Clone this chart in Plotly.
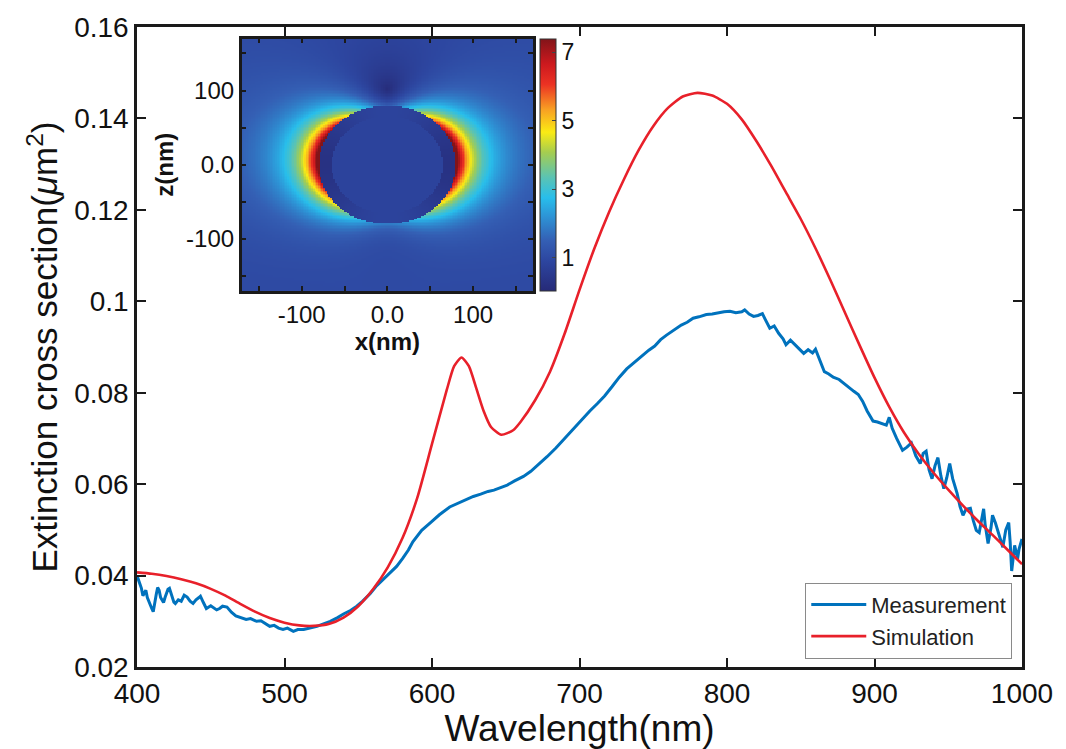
import numpy as np
import plotly.graph_objects as go

# Measured extinction spectrum (nm, um^2)
wl_meas = [400, 401, 402, 403, 404, 405, 406, 407, 408, 409, 410, 411, 412, 413, 414, 415, 416, 417, 418, 419,
           420, 421, 422, 423, 424, 425, 426, 428, 430, 432, 434, 436, 438, 440, 442, 443, 445, 447, 450, 452,
           454, 456, 458, 461, 464, 467, 470, 474, 477, 481, 484, 487, 490, 493, 496, 499, 502, 506, 509, 513,
           517, 522, 526, 531, 536, 540, 545, 549, 553, 558, 562, 566, 571, 576, 580, 584, 587, 593, 599, 605,
           612, 618, 623, 628, 633, 638, 642, 646, 651, 656, 662, 667, 672, 678, 684, 690, 696, 702, 707, 712,
           717, 722, 727, 732, 737, 742, 747, 751, 755, 759, 764, 769, 773, 777, 781, 786, 790, 794, 798, 802,
           806, 810, 812, 815, 818, 821, 824, 826, 829, 832, 835, 838, 840, 843, 846, 849, 852, 855, 858, 860,
           863, 866, 869, 872, 876, 879, 882, 886, 889, 892, 895, 899, 902, 905, 908, 910, 912, 915, 919, 922,
           925, 928, 931, 933, 935, 937, 939, 941, 943, 945, 947, 949, 951, 953, 956, 958, 960, 962, 965, 967,
           969, 971, 973, 974, 975, 977, 979, 980, 982, 985, 987, 989, 991, 992, 993, 995, 997, 998, 1000]
ext_meas = [0.0400, 0.0391, 0.0380, 0.0372, 0.0356, 0.0363, 0.0368, 0.0352, 0.0343, 0.0338, 0.0328, 0.0321,
            0.0336, 0.0358, 0.0374, 0.0368, 0.0352, 0.0345, 0.0341, 0.0352, 0.0363, 0.0370, 0.0372, 0.0360,
            0.0350, 0.0342, 0.0339, 0.0347, 0.0344, 0.0357, 0.0353, 0.0344, 0.0339, 0.0347, 0.0352, 0.0355,
            0.0341, 0.0328, 0.0334, 0.0329, 0.0325, 0.0328, 0.0333, 0.0331, 0.0320, 0.0312, 0.0309, 0.0304,
            0.0306, 0.0300, 0.0301, 0.0294, 0.0289, 0.0291, 0.0285, 0.0282, 0.0285, 0.0278, 0.0282, 0.0282,
            0.0285, 0.0289, 0.0294, 0.0300, 0.0308, 0.0316, 0.0324, 0.0333, 0.0344, 0.0360, 0.0376, 0.0389,
            0.0404, 0.0420, 0.0437, 0.0456, 0.0474, 0.0499, 0.0516, 0.0533, 0.0550, 0.0559, 0.0566, 0.0573,
            0.0578, 0.0584, 0.0587, 0.0592, 0.0598, 0.0607, 0.0617, 0.0628, 0.0642, 0.0660, 0.0679, 0.0700,
            0.0722, 0.0744, 0.0760, 0.0776, 0.0793, 0.0813, 0.0834, 0.0852, 0.0866, 0.0880, 0.0893, 0.0902,
            0.0916, 0.0926, 0.0937, 0.0948, 0.0954, 0.0963, 0.0966, 0.0971, 0.0972, 0.0975, 0.0977, 0.0978,
            0.0975, 0.0977, 0.0981, 0.0972, 0.0967, 0.0969, 0.0973, 0.0960, 0.0941, 0.0946, 0.0930, 0.0918,
            0.0905, 0.0915, 0.0905, 0.0895, 0.0886, 0.0894, 0.0887, 0.0895, 0.0869, 0.0846, 0.0841, 0.0834,
            0.0829, 0.0821, 0.0812, 0.0803, 0.0796, 0.0781, 0.0760, 0.0738, 0.0736, 0.0732, 0.0729, 0.0746,
            0.0722, 0.0700, 0.0674, 0.0681, 0.0690, 0.0662, 0.0645, 0.0667, 0.0672, 0.0631, 0.0612, 0.0640,
            0.0658, 0.0618, 0.0590, 0.0614, 0.0645, 0.0612, 0.0580, 0.0551, 0.0532, 0.0545, 0.0547, 0.0520,
            0.0499, 0.0494, 0.0530, 0.0546, 0.0512, 0.0470, 0.0505, 0.0532, 0.0515, 0.0480, 0.0462, 0.0500,
            0.0516, 0.0472, 0.0410, 0.0466, 0.0437, 0.0458, 0.0480]

# Simulated extinction spectrum
wl_sim = [400, 410, 420, 430, 440, 450, 460, 470, 480, 490, 500, 510, 520, 530, 540, 550, 560, 570, 580, 590,
          600, 610, 615, 620, 625, 630, 635, 640, 647, 655, 660, 670, 680, 690, 700, 710, 720, 730, 740, 750,
          760, 770, 780, 790, 800, 810, 820, 830, 840, 850, 860, 870, 880, 890, 900, 910, 920, 930, 940, 950,
          960, 970, 980, 990, 1000]
ext_sim = [0.0407, 0.0404, 0.0399, 0.0392, 0.0383, 0.0371, 0.0356, 0.0338, 0.0321, 0.0307, 0.0297, 0.0291,
           0.0290, 0.0294, 0.0308, 0.0333, 0.0370, 0.0418, 0.0482, 0.0570, 0.0688, 0.0806, 0.0858, 0.0877,
           0.0858, 0.0810, 0.0760, 0.0725, 0.0708, 0.0718, 0.0736, 0.0784, 0.0846, 0.0930, 0.1025, 0.1115,
           0.1195, 0.1266, 0.1330, 0.1383, 0.1423, 0.1448, 0.1456, 0.1450, 0.1432, 0.1398, 0.1350, 0.1296,
           0.1238, 0.1180, 0.1116, 0.1047, 0.0975, 0.0903, 0.0833, 0.0769, 0.0713, 0.0666, 0.0625, 0.0588,
           0.0553, 0.0520, 0.0489, 0.0457, 0.0425]

y_ticks = [0.02, 0.04, 0.06, 0.08, 0.1, 0.12, 0.14, 0.16]
y_ticktext = ["0.02", "0.04", "0.06", "0.08", "0.1", "0.12", "0.14", "0.16"]
x_ticks = [400, 500, 600, 700, 800, 900, 1000]
inset_ticks = [-100, 0, 100]
inset_ticktext = ["-100", "0.0", "100"]
inset_minor = [-150, -50, 50, 150]
cbar_ticks = [1, 3, 5, 7]

# Near-field |E|/|E0| map around a core-shell particle: x-polarised dipole response
# with a weak phase retardation along z, plus a localised hot-spot term at the sides
R_OUT, R_IN = 80.0, 65.0
grid = np.linspace(-170, 170, 171)
X, Z = np.meshgrid(grid, grid)
r = np.hypot(X, Z) + 1e-9
c, s_ = X / r, Z / r
g = 2.1 * np.exp(0.6j) * (1.0 + 0.1 * c ** 2)
k = 0.006
d = (R_OUT / r) ** 3
Ex = np.exp(1j * k * Z) + g * d * (3 * c ** 2 - 1)
Ez = g * d * 3 * c * s_
phi = np.arctan2(Z, np.abs(X))
hot = 3.0 * (R_OUT / r) ** 4 * np.exp(-((phi - 0.3) / 0.85) ** 2)
field = np.sqrt(np.abs(Ex) ** 2 + np.abs(Ez) ** 2) + hot
field = np.where(r < R_OUT, 0.85 - 0.55 * c ** 2, field)
field = np.where(r < R_IN, 0.85, field)
field = np.clip(field, 0.05, 7.4)

jet_soft = [
    [0.00, "rgb(38,42,120)"],
    [0.12, "rgb(45,70,160)"],
    [0.20, "rgb(52,95,180)"],
    [0.30, "rgb(45,150,215)"],
    [0.37, "rgb(40,190,235)"],
    [0.45, "rgb(90,195,180)"],
    [0.55, "rgb(165,205,80)"],
    [0.63, "rgb(250,235,20)"],
    [0.72, "rgb(248,160,35)"],
    [0.82, "rgb(235,50,35)"],
    [0.90, "rgb(205,25,30)"],
    [1.00, "rgb(130,20,25)"],
]

FONT = "Liberation Sans, Arial, Helvetica, sans-serif"
BLUE = "#0072BD"
RED = "#E8202A"

fig = go.Figure()

fig.add_trace(go.Scatter(x=wl_meas, y=ext_meas, mode="lines", name="Measurement",
                         line=dict(color=BLUE, width=3)))
fig.add_trace(go.Scatter(x=wl_sim, y=ext_sim, mode="lines", name="Simulation",
                         line=dict(color=RED, width=2.6, shape="spline", smoothing=0.6)))

fig.add_trace(go.Heatmap(
    x=grid, y=grid, z=field, xaxis="x2", yaxis="y2",
    colorscale=jet_soft, zmin=0.05, zmax=7.4, showscale=True, showlegend=False,
    colorbar=dict(x=0.4554, xanchor="left", y=0.982, yanchor="top", len=0.393, lenmode="fraction",
                  thickness=16, outlinewidth=1, outlinecolor="#333",
                  tickvals=cbar_ticks, ticks="inside", ticklen=4, tickcolor="#444",
                  tickfont=dict(size=23, family=FONT, color="#111"), xpad=0, ypad=0),
    hoverinfo="skip",
))

axis_common = dict(showline=True, linecolor="#1a1a1a", linewidth=2.5, mirror="ticks",
                   ticks="inside", tickcolor="#1a1a1a", tickwidth=2, ticklen=9,
                   showgrid=False, zeroline=False,
                   tickfont=dict(size=28, family=FONT, color="#111"))

inset_common = dict(range=[-170, 170], tickvals=inset_ticks, ticktext=inset_ticktext,
                    showline=True, linecolor="#1a1a1a", linewidth=2.5, mirror="ticks",
                    ticks="inside", ticklen=5, tickwidth=1.5, tickcolor="#1a1a1a",
                    minor=dict(tickmode="array", tickvals=inset_minor, ticks="inside",
                               ticklen=5, tickwidth=1.5, tickcolor="#1a1a1a", showgrid=False),
                    showgrid=False, zeroline=False,
                    tickfont=dict(size=24, family=FONT, color="#111"))

fig.update_layout(
    width=1066, height=749,
    margin=dict(l=137, r=44, t=24, b=76),
    paper_bgcolor="white", plot_bgcolor="white",
    font=dict(family=FONT, color="#111"),
    xaxis=dict(range=[400, 1000], tickvals=x_ticks, domain=[0, 1],
               title=dict(text="Wavelength(nm)", font=dict(size=37, family=FONT), standoff=2),
               **axis_common),
    yaxis=dict(range=[0.02, 0.16], tickvals=y_ticks, ticktext=y_ticktext, domain=[0, 1],
               title=dict(text="Extinction cross section(<i>μ</i>m<sup>2</sup>)",
                          font=dict(size=35, family=FONT), standoff=6),
               **axis_common),
    xaxis2=dict(domain=[0.1183, 0.4475], anchor="y2",
                title=dict(text="<b>x(nm)</b>", font=dict(size=24, family=FONT), standoff=0),
                **inset_common),
    yaxis2=dict(domain=[0.5875, 0.982], anchor="x2",
                title=dict(text="<b>z(nm)</b>", font=dict(size=24, family=FONT), standoff=6),
                **inset_common),
    legend=dict(x=0.989, xanchor="right", y=0.013, yanchor="bottom",
                bgcolor="white", bordercolor="#8a8a8a", borderwidth=1,
                font=dict(size=22, family=FONT, color="#222"), itemwidth=55,
                tracegroupgap=0),
    showlegend=True,
)

fig.write_html("out.html")
